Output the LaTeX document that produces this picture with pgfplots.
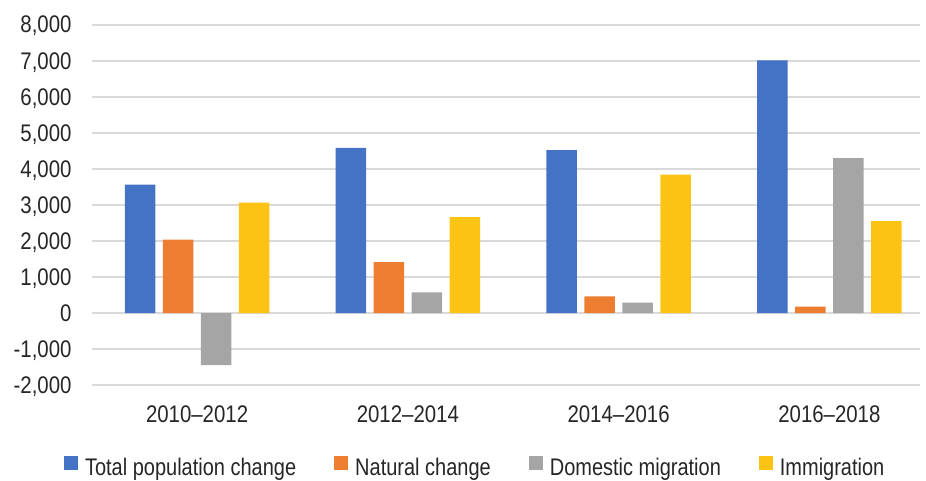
\documentclass[border=0pt]{standalone}
\usepackage{pgfplots}
\pgfplotsset{compat=1.18}
\usepackage{fontspec}
\setmainfont{Liberation Sans}[FakeStretch=0.85]
\newfontfamily\legfont{Liberation Sans}[FakeStretch=0.833]

\definecolor{cBlue}{HTML}{4472C4}
\definecolor{cOrange}{HTML}{ED7D31}
\definecolor{cGray}{HTML}{A5A5A5}
\definecolor{cYellow}{HTML}{FBC314}
\definecolor{cGrid}{HTML}{D9D9D9}
\definecolor{cText}{HTML}{262626}

\newcommand{\chartfont}{\fontsize{24}{28}\selectfont}

\begin{document}
\begin{tikzpicture}
\begin{axis}[
    at={(91.7pt,-385.3pt)}, anchor=south west,
    scale only axis,
    width=828.3pt, height=360.3pt,
    ybar=7.5pt, bar width=30.5pt,
    xmin=-0.5, xmax=3.43,
    ymin=-2000, ymax=8000,
    xtick=data,
    xticklabels={2010--2012,2012--2014,2014--2016,2016--2018},
    ytick={-2000,-1000,...,8000},
    scaled y ticks=false,
    /pgf/number format/.cd, 1000 sep={,}, assume math mode=true,
    /pgfplots/.cd,
    axis line style={draw=none},
    major tick length=0pt,
    ymajorgrids,
    grid style={cGrid, line width=2pt},
    xticklabel style={font=\chartfont, text=cText, anchor=base, inner sep=0pt, yshift=-37pt},
    yticklabel style={font=\chartfont, text=cText, anchor=base east, inner sep=0pt, xshift=-20pt, yshift=-8pt},
    legend columns=4,
    legend style={
        at={(axis description cs:-0.0334,-0.197)}, anchor=north west,
        draw=none, fill=none, inner sep=0pt, outer sep=0pt,
        font=\legfont\chartfont, text=cText,
        nodes={inner sep=0pt},
        /tikz/every odd column/.append style={column sep=7pt},
        /tikz/every even column/.append style={column sep=38pt},
    },
    legend image code/.code={\fill[#1] (0pt,-2.3pt) rectangle (14pt,11.7pt);},
]
\addplot[fill=cBlue, draw=none] coordinates {(0,3570) (1,4590) (2,4530) (3,7020)};
\addplot[fill=cOrange, draw=none] coordinates {(0,2045) (1,1420) (2,465) (3,186)};
\addplot[fill=cGray, draw=none] coordinates {(0,-1440) (1,576) (2,297) (3,4303)};
\addplot[fill=cYellow, draw=none] coordinates {(0,3067) (1,2667) (2,3848) (3,2556)};
\legend{Total population change, Natural change, Domestic migration, Immigration}
\end{axis}
\pgfresetboundingbox
\useasboundingbox (0,0) rectangle (926pt,-480pt);
\end{tikzpicture}
\end{document}
